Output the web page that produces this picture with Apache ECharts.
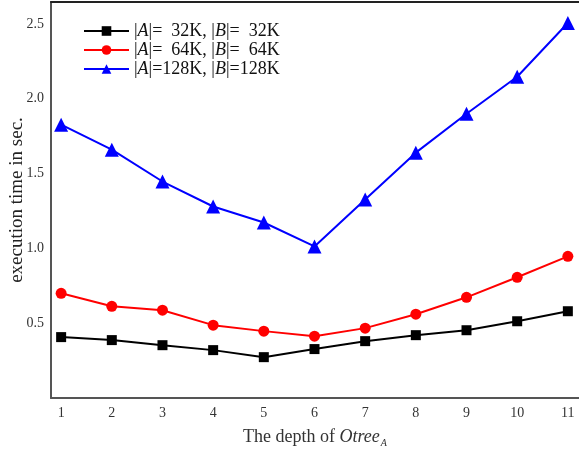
<!DOCTYPE html>
<html><head><meta charset="utf-8">
<script src="https://cdn.jsdelivr.net/npm/echarts@6/dist/echarts.min.js"></script>
<style>html,body{margin:0;padding:0;background:#fff}#c{width:579px;height:453px}</style>
</head><body><div id="c"></div>
<script>
const depths = [1,2,3,4,5,6,7,8,9,10,11];
const s32 = [0.407,0.387,0.353,0.32,0.273,0.327,0.38,0.42,0.453,0.513,0.58];
const s64 = [0.70,0.613,0.587,0.487,0.447,0.413,0.467,0.56,0.673,0.807,0.947];
const s128 = [1.827,1.66,1.447,1.28,1.173,1.013,1.327,1.64,1.90,2.147,2.507];
const yTicks = [0.5,1.0,1.5,2.0,2.5];
const legendLabels = {
  s32: ['  32K', '  32K'],
  s64: ['  64K', '  64K'],
  s128: ['128K', '128K']
};
const F = '"Liberation Serif", "DejaVu Serif", serif';
const chart = echarts.init(document.getElementById('c'));
function pairs(arr){ return depths.map((d,i)=>[d, arr[i]]); }
chart.setOption({
  animation:false,
  grid:{left:51, right:0, top:2, bottom:55, containLabel:false, outerBoundsMode:'none'},
  legend:{
    left:83, top:22, padding:0, orient:'vertical', itemWidth:45, itemHeight:12, itemGap:1,
    textStyle:{fontFamily:F, fontSize:18, lineHeight:18, color:'#111', rich:{i:{fontFamily:F, fontSize:18, lineHeight:18, fontStyle:'italic', color:'#111'}}},
    formatter: n => { const l = legendLabels[n]; return '|{i|A}|=' + l[0] + ', |{i|B}|=' + l[1]; },
    data:['s32','s64','s128']
  },
  xAxis:[{
    type:'value', min:0.8, max:11.22,
    axisLine:{show:true, lineStyle:{color:'#555', width:2}},
    axisTick:{show:false}, splitLine:{show:false},
    axisLabel:{customValues:depths, fontFamily:F, fontSize:14, color:'#333', margin:8},
    name:'{n|The depth of }{i|Otree}{s|A}', nameLocation:'middle', nameGap:28, nameMoveOverlap:false,
    nameTextStyle:{rich:{
      n:{fontFamily:F, fontSize:18, color:'#333'},
      i:{fontFamily:F, fontSize:18, fontStyle:'italic', color:'#333'},
      s:{fontFamily:F, fontSize:10, fontStyle:'italic', color:'#333', verticalAlign:'bottom', padding:[12,0,0,1]}
    }}
  },{
    type:'value', position:'top', min:0.8, max:11.22,
    axisLine:{show:true, lineStyle:{color:'#222', width:2}},
    axisTick:{show:false}, axisLabel:{show:false}, splitLine:{show:false}
  }],
  yAxis:{
    type:'value', min:0, max:2.647,
    axisLine:{show:true, lineStyle:{color:'#555', width:2}},
    axisTick:{show:false}, splitLine:{show:false},
    axisLabel:{customValues:yTicks, formatter:v=>v.toFixed(1), fontFamily:F, fontSize:14, color:'#333', margin:7},
    name:'execution time in sec.', nameLocation:'middle', nameGap:24, nameRotate:90, nameMoveOverlap:false,
    nameTextStyle:{fontFamily:F, fontSize:19, color:'#222'}
  },
  series:[
    {name:'s32', type:'line', data:pairs(s32), symbol:'rect', symbolSize:10, itemStyle:{color:'#000'}, lineStyle:{color:'#000', width:2}},
    {name:'s64', type:'line', data:pairs(s64), symbol:'circle', symbolSize:11, itemStyle:{color:'#ff0000'}, lineStyle:{color:'#ff0000', width:2}},
    {name:'s128', type:'line', data:pairs(s128), symbol:'triangle', symbolSize:14, itemStyle:{color:'#0000ff'}, lineStyle:{color:'#0000ff', width:2}}
  ]
});
</script></body></html>
